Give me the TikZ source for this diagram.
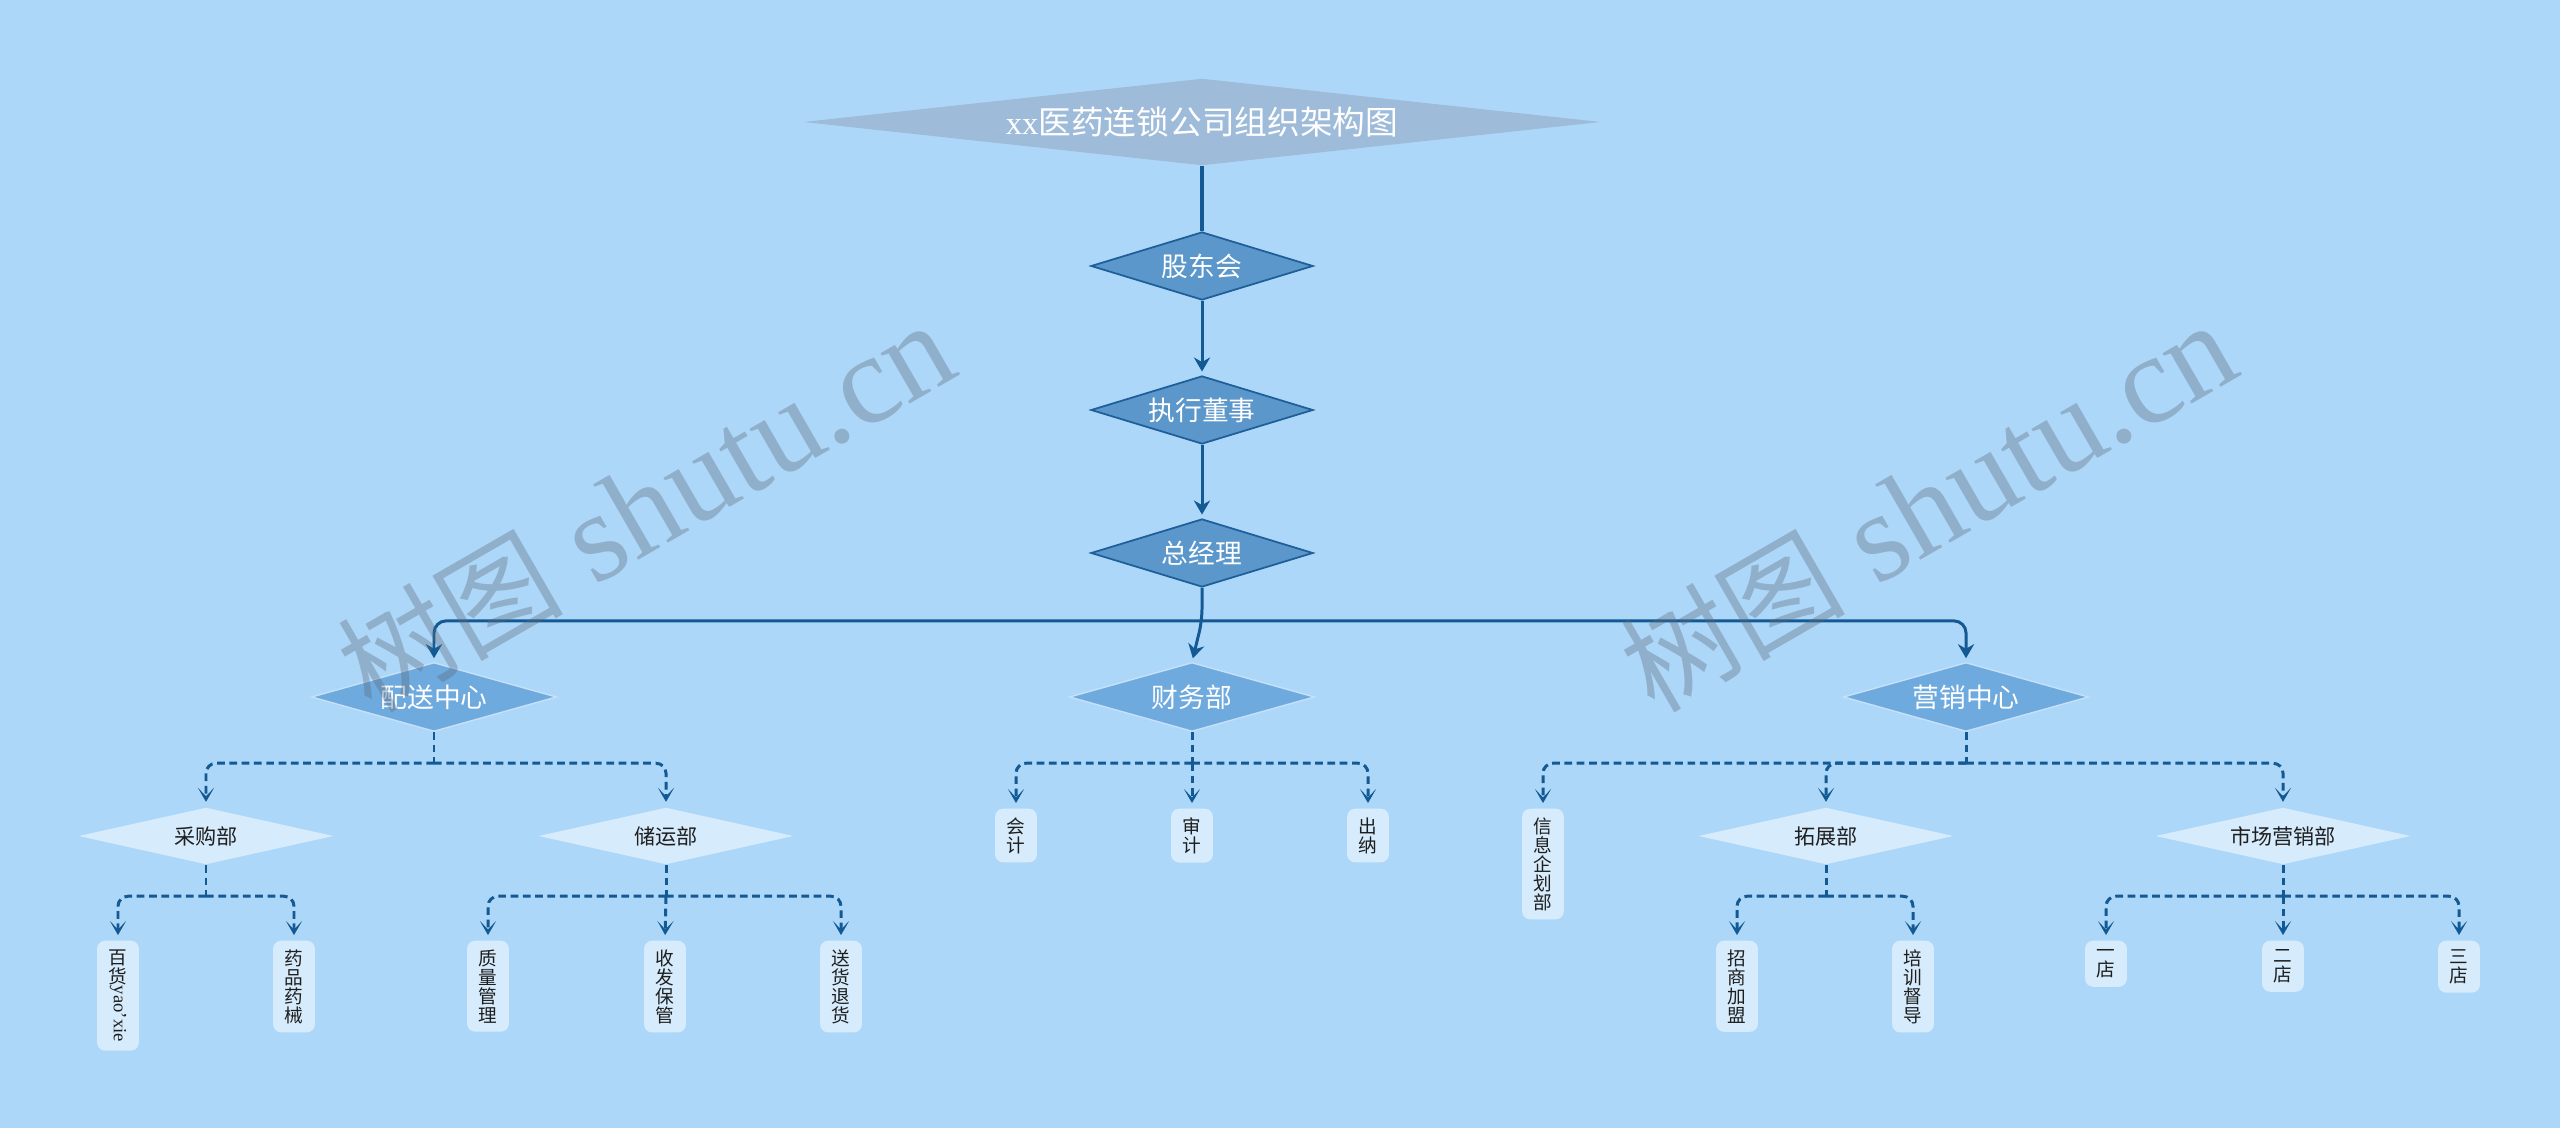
\documentclass[tikz,border=0pt]{standalone}
\usepackage{fontspec}
\usepackage{graphicx}
\setmainfont{Liberation Serif}
\newfontfamily\cjk{Noto Sans CJK SC}
\usetikzlibrary{shapes.geometric,arrows.meta}

\definecolor{bgblue}{HTML}{ADD7F8}
\definecolor{titlefill}{HTML}{9EBCD9}
\definecolor{topfill}{HTML}{5B97CB}
\definecolor{topline}{HTML}{1F5F99}
\definecolor{midfill}{HTML}{6FAADF}
\definecolor{midline}{HTML}{C5E0F7}
\definecolor{lowfill}{HTML}{D6EBFC}
\definecolor{linkblue}{HTML}{135A94}
\definecolor{textdark}{HTML}{1E1E1E}
\definecolor{markgray}{HTML}{5A697B}

\tikzset{
  diabox/.style={diamond, inner sep=0pt, text=white},
  titlebox/.style={diabox, fill=titlefill, shape aspect=9.16, minimum width=7.97cm, minimum height=0.87cm, font=\fontsize{9.3}{11}\selectfont},
  topbox/.style={diabox, fill=topfill, draw=topline, line width=0.5pt, shape aspect=3.26, minimum width=2.22cm, minimum height=0.68cm, font=\cjk\fontsize{7.6}{9}\selectfont},
  midbox/.style={diabox, fill=midfill, draw=midline, line width=0.4pt, shape aspect=3.55, minimum width=2.45cm, minimum height=0.69cm, font=\cjk\fontsize{7.6}{9}\selectfont},
  lowbox/.style={diamond, inner sep=0pt, fill=lowfill, text=textdark, shape aspect=4.5, minimum width=2.55cm, minimum height=0.57cm, font=\cjk\fontsize{6}{7}\selectfont},
  leaf/.style={rectangle, rounded corners=2.3pt, fill=lowfill, text=textdark, anchor=north, align=center, inner xsep=3.3pt, inner ysep=2.5pt, minimum width=11.9pt, font=\cjk\fontsize{5.3}{5.4}\selectfont},
  trunk/.style={draw=linkblue, line width=1.15pt},
  link/.style={draw=linkblue, line width=0.85pt, -{Stealth[length=4pt,width=4.6pt]}, shorten >=1pt, rounded corners=0.12cm},
  dline/.style={draw=linkblue, line width=0.85pt, dash pattern=on 2.2pt off 1.3pt},
  dlink/.style={dline, -{Stealth[length=4pt,width=4.6pt,inset=2.4pt]}, shorten >=1.4pt, rounded corners=0.1cm},
  wmark/.style={text=markgray, text opacity=0.36, rotate=30, font=\fontsize{36}{40}\selectfont}
}

\begin{document}
\begin{tikzpicture}[x=0.01cm, y=-0.01cm]
\useasboundingbox (0,0) rectangle (2560,1128);
\fill[bgblue] (0,0) rectangle (2560,1128);

\node[titlebox] (title) at (1202,122) {xx{\cjk 医药连锁公司组织架构图}};
\node[topbox] (gdh) at (1202,266) {股东会};
\node[topbox] (zxds) at (1202,410) {执行董事};
\node[topbox] (zjl) at (1202,553) {总经理};

\node[midbox] (pszx) at (434,697) {配送中心};
\node[midbox] (cwb) at (1192,697) {财务部};
\node[midbox] (yxzx) at (1966,697) {营销中心};

\node[lowbox] (cgb) at (206,836) {采购部};
\node[lowbox] (cyb) at (666,836) {储运部};
\node[lowbox] (tzb) at (1826,836) {拓展部};
\node[lowbox] (scyx) at (2283,836) {市场营销部};

\node[leaf] (kj) at (1016,808) {会\\计};
\node[leaf] (sj) at (1192,808) {审\\计};
\node[leaf] (cn) at (1368,808) {出\\纳};
\node[leaf] (xxqh) at (1543,808) {信\\息\\企\\划\\部};

\node[leaf] (bh) at (118,940) {百\\货\\[-4.6pt]\rotatebox{-90}{\rmfamily yao'xie}};
\node[leaf] (ypyx) at (294,940) {药\\品\\药\\械};
\node[leaf] (zlgl) at (488,940) {质\\量\\管\\理};
\node[leaf] (sfbg) at (665,940) {收\\发\\保\\管};
\node[leaf] (shth) at (841,940) {送\\货\\退\\货};
\node[leaf] (zsjm) at (1737,940) {招\\商\\加\\盟};
\node[leaf] (pxdd) at (1913,940) {培\\训\\督\\导};
\node[leaf] (yd) at (2106,940) {一\\店};
\node[leaf] (ed) at (2283,940) {二\\店};
\node[leaf] (sd) at (2459,940) {三\\店};

\coordinate (zjlbus) at ([yshift=-0.33cm]zjl.south);
\coordinate (psbus) at ([yshift=-0.31cm]pszx.south);
\coordinate (cwbus) at ([yshift=-0.31cm]cwb.south);
\coordinate (yxbus) at ([yshift=-0.31cm]yxzx.south);
\coordinate (cgbus) at ([yshift=-0.31cm]cgb.south);
\coordinate (cybus) at ([yshift=-0.31cm]cyb.south);
\coordinate (tzbus) at ([yshift=-0.31cm]tzb.south);
\coordinate (scbus) at ([yshift=-0.31cm]scyx.south);

\draw[trunk] (title) -- (gdh);
\draw[link] (gdh) -- (zxds);
\draw[link] (zxds) -- (zjl);
\draw[link] (zjl.south) -- (zjlbus) -- (cwb.north);
\draw[link] (zjlbus) -| (pszx.north);
\draw[link] (zjlbus) -| (yxzx.north);

\draw[dline] (pszx.south) -- (psbus);
\draw[dlink] (psbus) -| (cgb.north);
\draw[dlink] (psbus) -| (cyb.north);

\draw[dline] (cwb.south) -- (cwbus);
\draw[dlink] (cwbus) -| (kj.north);
\draw[dlink] (cwbus) -- (sj.north);
\draw[dlink] (cwbus) -| (cn.north);

\draw[dline] (yxzx.south) -- (yxbus);
\draw[dlink] (yxbus) -| (xxqh.north);
\draw[dlink] (yxbus) -| (tzb.north);
\draw[dlink] (yxbus) -| (scyx.north);

\draw[dline] (cgb.south) -- (cgbus);
\draw[dlink] (cgbus) -| (bh.north);
\draw[dlink] (cgbus) -| (ypyx.north);

\draw[dline] (cyb.south) -- (cybus);
\draw[dlink] (cybus) -| (zlgl.north);
\draw[dlink] (cybus) -- (sfbg.north);
\draw[dlink] (cybus) -| (shth.north);

\draw[dline] (tzb.south) -- (tzbus);
\draw[dlink] (tzbus) -| (zsjm.north);
\draw[dlink] (tzbus) -| (pxdd.north);

\draw[dline] (scyx.south) -- (scbus);
\draw[dlink] (scbus) -| (yd.north);
\draw[dlink] (scbus) -- (ed.north);
\draw[dlink] (scbus) -| (sd.north);

\node[wmark] (mark1) at (646,507) {{\cjk\fontsize{32}{36}\selectfont 树图} shutu.cn};
\node[wmark] (mark2) at (1928,507) {{\cjk\fontsize{32}{36}\selectfont 树图} shutu.cn};
\end{tikzpicture}
\end{document}
